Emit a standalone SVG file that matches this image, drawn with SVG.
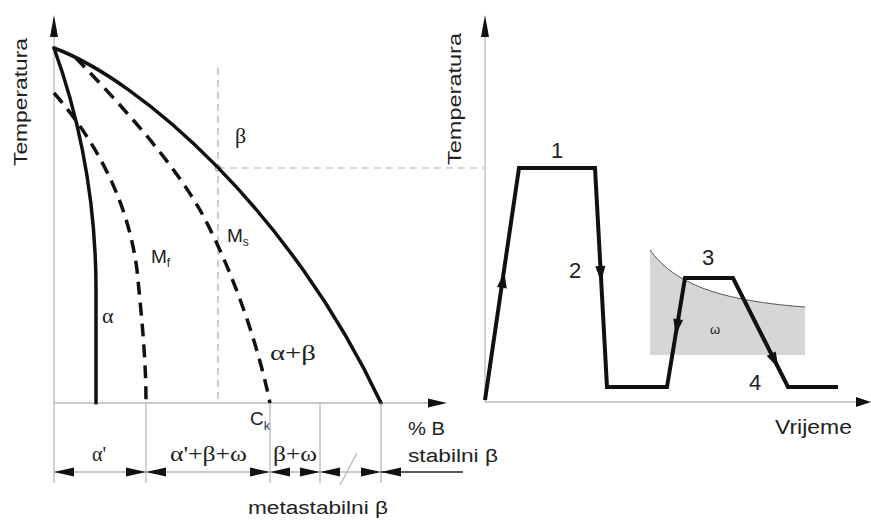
<svg xmlns="http://www.w3.org/2000/svg" width="871" height="520" viewBox="0 0 871 520">
<defs>
<style>
.ax{stroke:#b8b8b8;stroke-width:1.3;fill:none}
.gd{stroke:#aaa;stroke-width:1.2;stroke-dasharray:7,5;fill:none}
.thick{stroke:#111;stroke-width:3.5;fill:none;stroke-linecap:round}
.dash{stroke:#111;stroke-width:3.5;fill:none;stroke-dasharray:13,8}
.path{stroke:#111;stroke-width:4;fill:none;stroke-linejoin:miter}
.ah{fill:#111;stroke:none}
.sans{font-family:"Liberation Sans",Arial,sans-serif;fill:#222}
.serif{font-family:"Liberation Serif","Times New Roman",serif;fill:#222}
</style>
</defs>
<rect width="871" height="520" fill="#fff"/>

<g id="left-axes">
<line class="ax" x1="54" y1="34" x2="54" y2="483"/>
<polygon class="ah" points="54,15 50,37 58,37"/>
<line class="ax" x1="54" y1="403" x2="430" y2="403"/>
<polygon class="ah" points="447,403 428,398.5 428,407.5"/>
<line class="gd" x1="218" y1="68" x2="218" y2="403"/>
<line class="gd" x1="218" y1="168" x2="484" y2="168"/>
<circle cx="218" cy="168" r="3" fill="#fff" stroke="#999" stroke-width="1"/>
<text class="sans" transform="translate(27,102) rotate(-90)" font-size="18" text-anchor="middle" textLength="128" lengthAdjust="spacingAndGlyphs">Temperatura</text>
</g>

<g id="curves">
<path id="beta-transus" class="thick" d="M54,48 C140,80 290,210 381,403"/>
<path id="ms" class="dash" d="M76,58 C120,104 170,158 200,210 C225,255 255,330 270,403"/>
<path id="mf" class="dash" d="M54,93 C95,140 128,200 137,270 C142,320 146,360 146,403"/>
<path id="alpha" class="thick" d="M54,48 C80,120 96,200 96,290 L96,403"/>
</g>

<g id="left-labels">
<text class="serif" x="235" y="143" font-size="22">β</text>
<text class="serif" x="102" y="323" font-size="22">α</text>
<text class="sans" x="151" y="263" font-size="19">M<tspan font-size="12" dy="4">f</tspan></text>
<text class="sans" x="227" y="242" font-size="19">M<tspan font-size="12" dy="4">s</tspan></text>
<text class="serif" x="270" y="360" font-size="21" textLength="46" lengthAdjust="spacingAndGlyphs">α+β</text>
<text class="sans" x="250" y="425" font-size="19">C<tspan font-size="13" dy="5" fill="#1a3a6a">k</tspan></text>
<text class="sans" x="408" y="435" font-size="19" textLength="37" lengthAdjust="spacingAndGlyphs">% B</text>
<text class="sans" x="408" y="462" font-size="18" textLength="90" lengthAdjust="spacingAndGlyphs">stabilni β</text>
<text class="sans" x="248" y="514" font-size="18" textLength="140" lengthAdjust="spacingAndGlyphs">metastabilni β</text>
</g>

<g id="dimensions">
<line class="ax" x1="146" y1="403" x2="146" y2="483"/>
<line class="ax" x1="270" y1="403" x2="270" y2="483"/>
<line class="ax" x1="320" y1="403" x2="320" y2="483"/>
<line class="ax" x1="381" y1="403" x2="381" y2="483"/>
<line class="ax" x1="54" y1="472" x2="381" y2="472"/>
<line x1="381" y1="472" x2="463" y2="472" stroke="#222" stroke-width="1.5"/>
<line class="ax" x1="340" y1="485" x2="357" y2="453"/>
<polygon class="ah" points="54,472 74,467.5 74,476.5"/>
<polygon class="ah" points="146,472 126,467.5 126,476.5"/>
<polygon class="ah" points="146,472 166,467.5 166,476.5"/>
<polygon class="ah" points="270,472 250,467.5 250,476.5"/>
<polygon class="ah" points="270,472 290,467.5 290,476.5"/>
<polygon class="ah" points="320,472 300,467.5 300,476.5"/>
<polygon class="ah" points="320,472 340,467.5 340,476.5"/>
<polygon class="ah" points="381,472 361,467.5 361,476.5"/>
<polygon class="ah" points="381,472 401,467.5 401,476.5"/>
<text class="serif" x="92" y="461" font-size="20">α'</text>
<text class="serif" x="170" y="461" font-size="20" textLength="77" lengthAdjust="spacingAndGlyphs">α'+β+ω</text>
<text class="serif" x="273" y="461" font-size="20" textLength="44" lengthAdjust="spacingAndGlyphs">β+ω</text>
</g>

<g id="right-axes">
<line class="ax" x1="485" y1="34" x2="485" y2="402"/>
<polygon class="ah" points="485,15 481,37 489,37"/>
<line class="ax" x1="485" y1="402" x2="860" y2="402"/>
<polygon class="ah" points="871,402 856,397 856,407"/>
<text class="sans" transform="translate(461,99) rotate(-90)" font-size="18" text-anchor="middle" textLength="132" lengthAdjust="spacingAndGlyphs">Temperatura</text>
<text class="sans" x="775" y="434" font-size="20" textLength="77" lengthAdjust="spacingAndGlyphs">Vrijeme</text>
</g>

<g id="omega-region">
<path d="M650,250 C672,280 710,300 805,307 L805,355 L650,355 Z" fill="#d6d6d6"/>
<path d="M650,250 C672,280 710,300 805,307" fill="none" stroke="#555" stroke-width="1"/>
<text class="sans" x="715" y="334" font-size="13" text-anchor="middle" fill="#334">ω</text>
</g>

<g id="heat-treatment">
<path class="path" d="M485,400 L519,168 L595,168 L607,387 L667,387 L685,278 L733,278 L788,387 L838,387"/>
<polygon class="ah" points="504.3,272 506.8,288.5 497,287.1"/>
<polygon class="ah" points="601.2,282 605.3,265.7 595.3,266.3"/>
<polygon class="ah" points="675.6,335 683.1,320 673.3,318.4"/>
<polygon class="ah" points="778.4,368 775.7,351.4 766.7,355.9"/>
<text class="sans" x="557" y="158" font-size="22" text-anchor="middle">1</text>
<text class="sans" x="575" y="278" font-size="22" text-anchor="middle">2</text>
<text class="sans" x="708" y="265" font-size="22" text-anchor="middle">3</text>
<text class="sans" x="755" y="390" font-size="22" text-anchor="middle">4</text>
</g>
</svg>
